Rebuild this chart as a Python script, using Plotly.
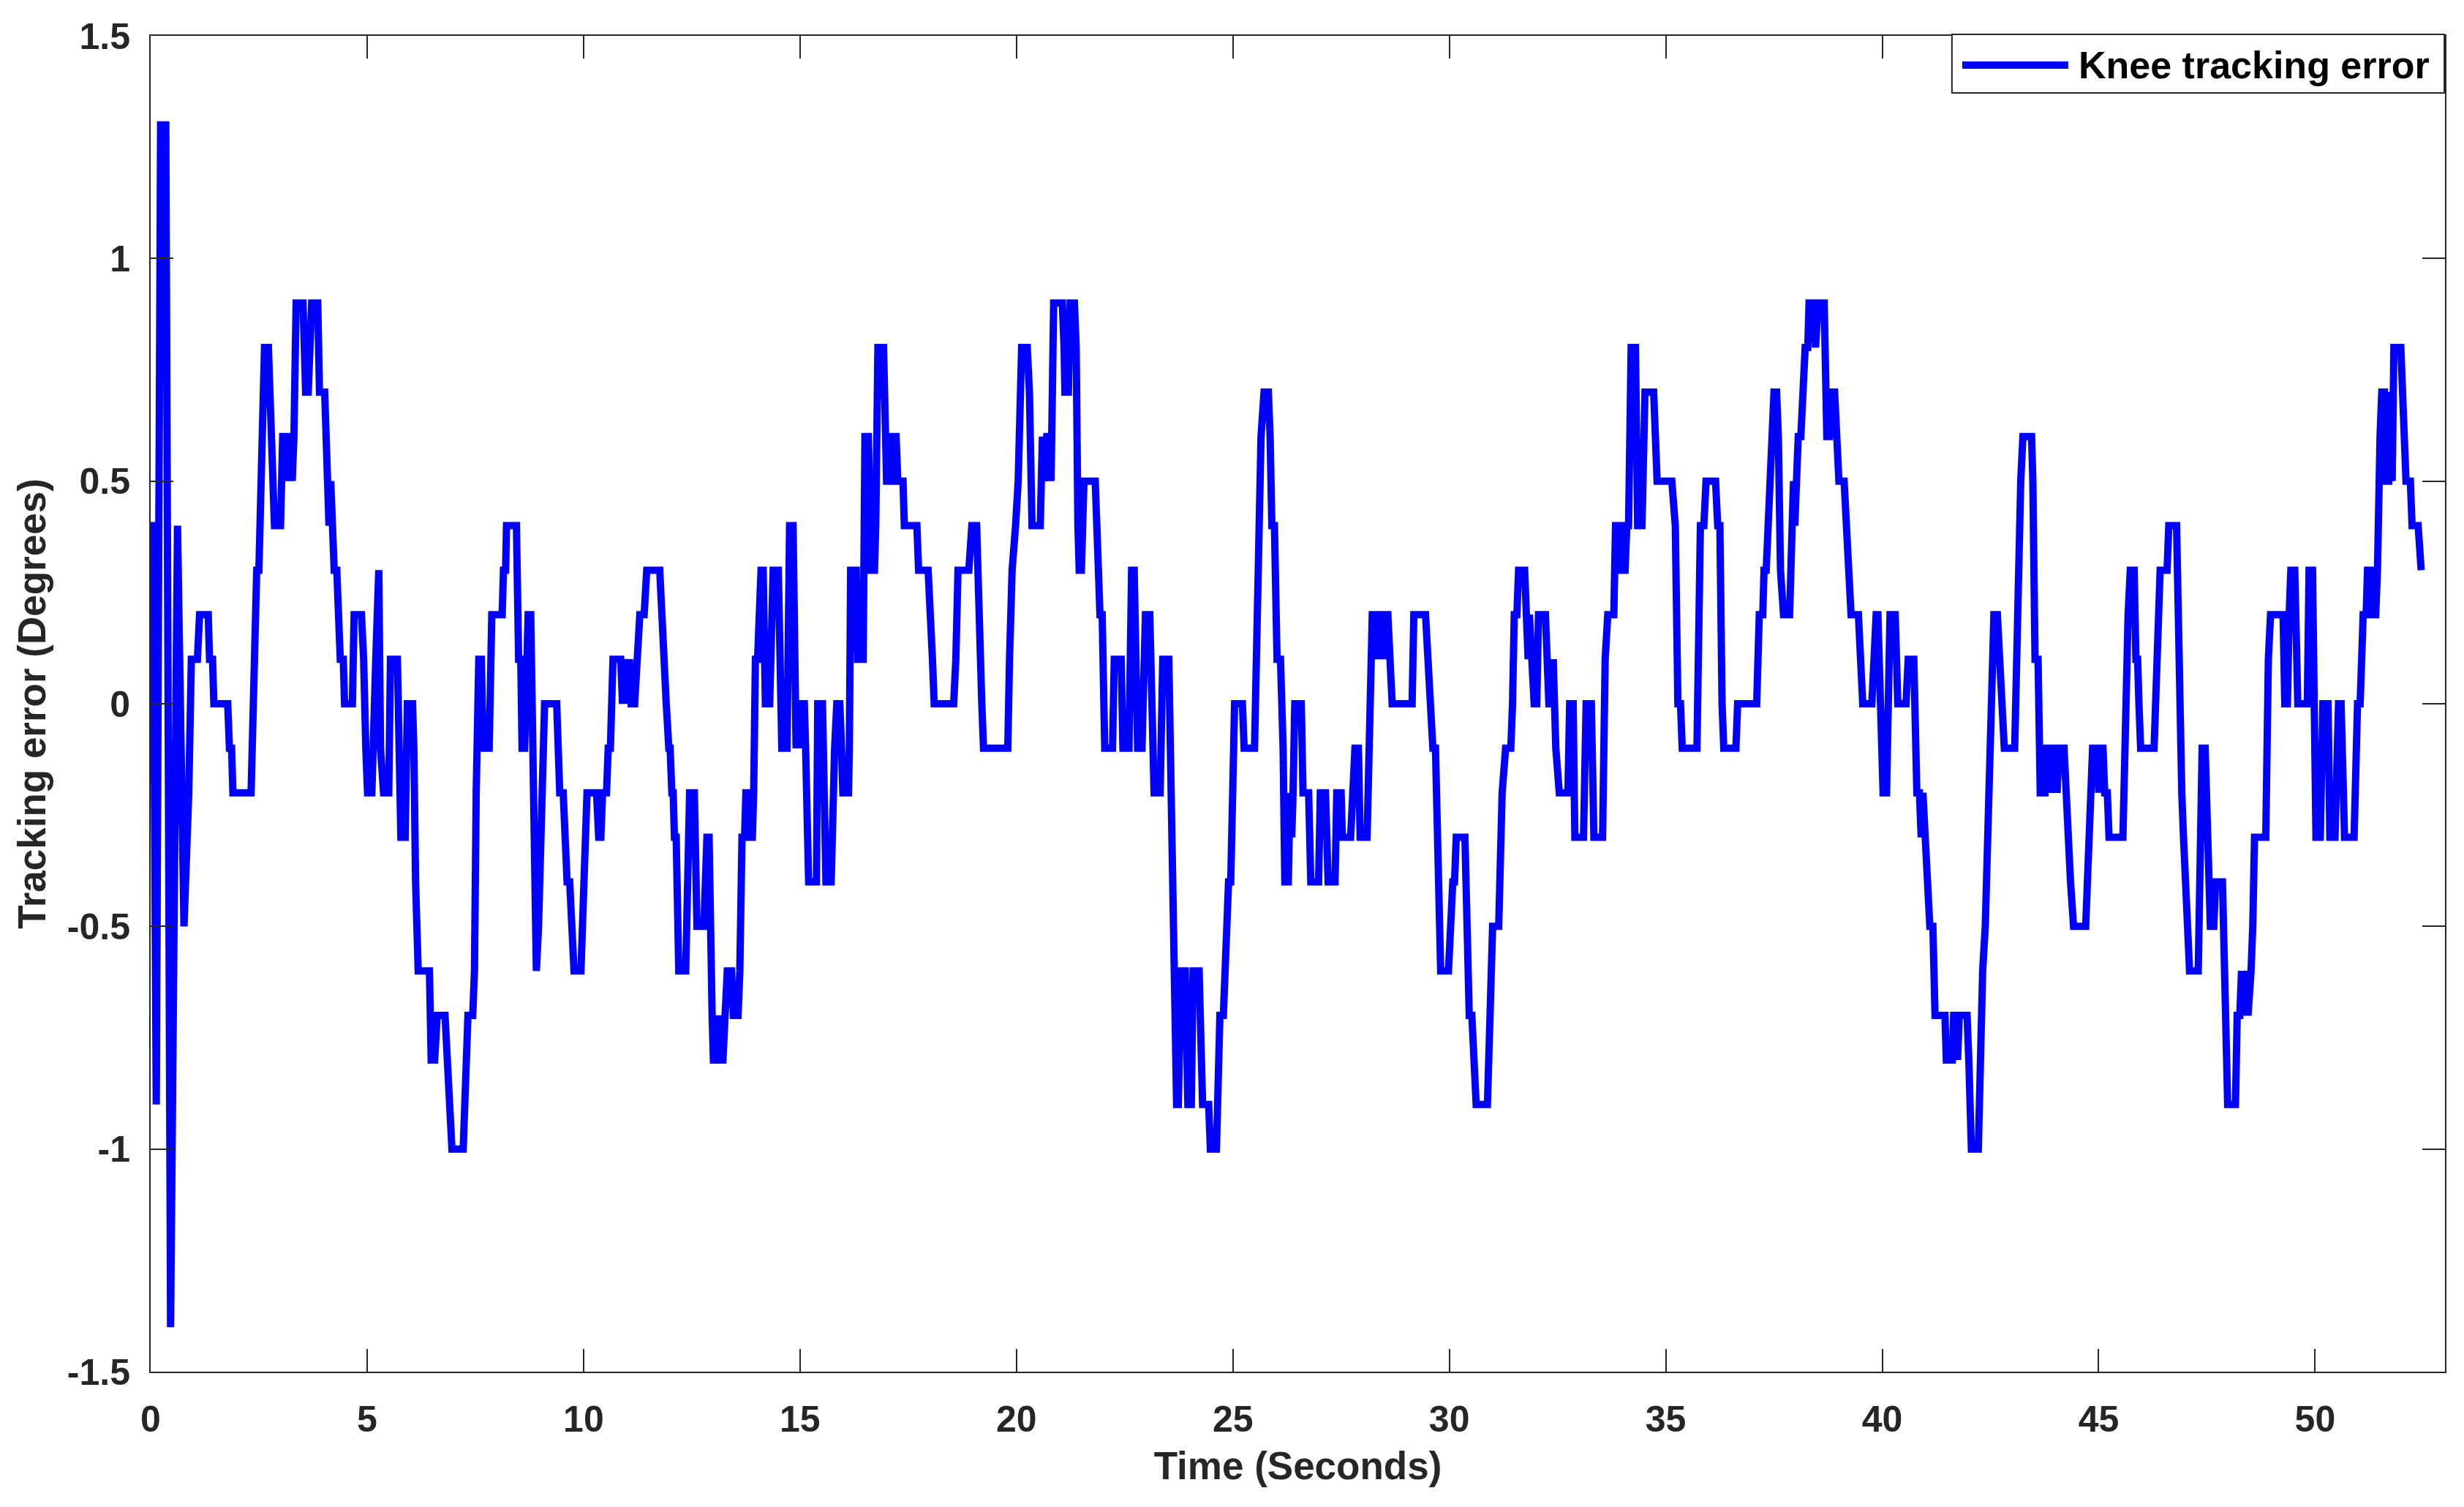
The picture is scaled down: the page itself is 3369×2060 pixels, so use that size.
import plotly.graph_objects as go

# ---------------- data ----------------
time_a = [0.00, 0.05, 0.13, 0.23, 0.35, 0.46, 0.62, 0.77, 0.88, 0.94,
          1.08, 1.13, 1.33, 1.36, 1.43, 1.46, 1.78, 1.82, 1.87, 1.90,
          2.32, 2.36, 2.40, 2.45, 2.50, 2.55, 2.59, 2.63, 2.72, 2.79,
          2.86, 3.00, 3.05, 3.15, 3.19, 3.23, 3.27, 3.31, 3.36, 3.52,
          3.58, 3.64, 3.68, 3.72, 3.86, 3.90, 4.02, 4.07, 4.12, 4.16,
          4.20, 4.24, 4.30, 4.33, 4.38, 4.45, 4.48, 4.66, 4.70, 4.87,
          4.92, 4.97, 5.01, 5.11, 5.15, 5.20, 5.27, 5.31, 5.38, 5.50,
          5.54, 5.70, 5.74, 5.78, 5.88, 5.93, 6.05, 6.08, 6.12, 6.15,
          6.18, 6.44, 6.48, 6.56, 6.62, 6.80]
err_a = [0.4, 0.4, -0.9, 1.3, 1.3, -1.4, 0.4, -0.5, -0.2, 0.1,
         0.1, 0.2, 0.2, 0.1, 0.1, 0.0, 0.0, -0.1, -0.1, -0.2,
         -0.2, 0.0, 0.1, 0.3, 0.3, 0.5, 0.5, 0.8, 0.8, 0.6,
         0.4, 0.4, 0.6, 0.6, 0.5, 0.6, 0.5, 0.6, 0.9, 0.9,
         0.7, 0.7, 0.8, 0.9, 0.9, 0.7, 0.7, 0.5, 0.4, 0.5,
         0.4, 0.3, 0.3, 0.2, 0.1, 0.1, 0.0, 0.0, 0.2, 0.2,
         0.1, -0.1, -0.2, -0.2, 0.0, 0.1, 0.3, -0.1, -0.2, -0.2,
         0.1, 0.1, -0.1, -0.3, -0.3, 0.0, 0.0, -0.1, -0.4, -0.5,
         -0.6, -0.6, -0.8, -0.8, -0.7, -0.7]

time_b = [6.85, 6.90, 6.96, 7.22, 7.25, 7.28, 7.33, 7.44, 7.48, 7.52,
          7.58, 7.64, 7.68, 7.82, 7.85, 7.88, 8.12, 8.15, 8.20, 8.22,
          8.45, 8.47, 8.50, 8.55, 8.58, 8.64, 8.72, 8.78, 8.91, 8.96,
          9.05, 9.10, 9.38, 9.41, 9.45, 9.53, 9.57, 9.62, 9.68, 9.72,
          9.78, 9.94, 9.98, 10.05, 10.08, 10.30, 10.35, 10.40, 10.44, 10.53,
          10.57, 10.62, 10.65, 10.68, 10.86, 10.90, 10.96, 11.00, 11.06, 11.10,
          11.18, 11.22, 11.26, 11.30, 11.40, 11.46, 11.76, 11.80, 11.84, 11.88,
          11.91, 11.97, 12.00, 12.04, 12.07, 12.10, 12.14, 12.20, 12.36, 12.45,
          12.56, 12.62, 12.78, 12.85, 12.90, 12.97, 13.00, 13.05, 13.10, 13.15,
          13.22, 13.27, 13.32, 13.42, 13.46, 13.57]
err_b = [-0.8, -0.9, -1.0, -1.0, -0.9, -0.8, -0.7, -0.7, -0.6, -0.2,
         0.1, 0.1, -0.1, -0.1, 0.0, 0.2, 0.2, 0.3, 0.3, 0.4,
         0.4, 0.3, 0.1, 0.1, -0.1, -0.1, 0.2, 0.2, -0.6, -0.5,
         -0.2, 0.0, 0.0, -0.1, -0.2, -0.2, -0.3, -0.4, -0.4, -0.5,
         -0.6, -0.6, -0.5, -0.3, -0.2, -0.2, -0.3, -0.3, -0.2, -0.2,
         -0.1, -0.1, 0.0, 0.1, 0.1, 0.0, 0.1, 0.0, 0.1, 0.0,
         0.0, 0.1, 0.1, 0.2, 0.2, 0.3, 0.3, 0.2, 0.1, 0.1,
         0.0, -0.1, -0.1, -0.2, -0.2, -0.3, -0.3, -0.6, -0.6, -0.2,
         -0.2, -0.5, -0.5, -0.3, -0.3, -0.7, -0.8, -0.8, -0.7, -0.8,
         -0.8, -0.7, -0.6, -0.6, -0.7, -0.7]

time_c = [13.61, 13.66, 13.72, 13.75, 13.80, 13.83, 13.90, 13.93, 13.97, 14.02,
          14.05, 14.10, 14.15, 14.20, 14.30, 14.33, 14.38, 14.50, 14.53, 14.55,
          14.58, 14.70, 14.76, 14.84, 14.88, 14.91, 14.95, 15.00, 15.05, 15.10,
          15.13, 15.20, 15.38, 15.41, 15.52, 15.56, 15.60, 15.72, 15.75, 15.80,
          15.85, 15.92, 15.96, 15.99, 16.12, 16.14, 16.17, 16.30, 16.33, 16.46,
          16.50, 16.58, 16.64, 16.72, 16.75, 16.80, 16.93, 16.96, 17.00, 17.10,
          17.13, 17.22, 17.26, 17.38, 17.41, 17.70, 17.74, 17.96, 17.99, 18.02,
          18.06, 18.10, 18.55, 18.60, 18.65, 18.90, 18.97, 19.08, 19.12, 19.17,
          19.20, 19.24, 19.80, 19.84, 19.90, 19.98, 20.04, 20.12, 20.25, 20.30]
err_c = [-0.6, -0.3, -0.3, -0.2, -0.2, -0.3, -0.3, -0.2, 0.1, 0.1,
         0.2, 0.3, 0.3, 0.0, 0.0, 0.2, 0.3, 0.3, 0.2, 0.0,
         -0.1, -0.1, 0.4, 0.4, 0.2, -0.1, 0.0, -0.1, 0.0, 0.0,
         -0.1, -0.4, -0.4, 0.0, 0.0, -0.3, -0.4, -0.4, -0.2, -0.1,
         0.0, 0.0, -0.1, -0.2, -0.2, -0.1, 0.3, 0.3, 0.1, 0.1,
         0.6, 0.6, 0.3, 0.3, 0.4, 0.8, 0.8, 0.7, 0.5, 0.5,
         0.6, 0.6, 0.5, 0.5, 0.4, 0.4, 0.3, 0.3, 0.2, 0.1,
         0.1, 0.0, 0.0, 0.1, 0.3, 0.3, 0.4, 0.4, 0.2, 0.1,
         0.0, -0.1, -0.1, 0.1, 0.3, 0.4, 0.5, 0.8, 0.8, 0.7]

time_d = [20.36, 20.55, 20.60, 20.64, 20.70, 20.77, 20.80, 20.86, 21.06, 21.10,
          21.12, 21.20, 21.24, 21.34, 21.38, 21.42, 21.45, 21.50, 21.56, 21.82,
          21.86, 21.93, 21.98, 22.01, 22.04, 22.22, 22.26, 22.42, 22.46, 22.60,
          22.66, 22.72, 22.80, 22.90, 22.98, 23.08, 23.18, 23.32, 23.38, 23.52,
          23.65, 23.70, 23.74, 23.80, 23.90, 23.96, 24.04, 24.08, 24.22, 24.27,
          24.30, 24.44, 24.48, 24.62, 24.66, 24.70, 24.78, 24.82, 24.90, 24.95,
          25.00, 25.04, 25.22, 25.26, 25.50, 25.58, 25.65, 25.72, 25.82, 25.86,
          25.90, 25.96, 25.99, 26.02, 26.10, 26.16, 26.20, 26.28, 26.32, 26.36,
          26.39, 26.43, 26.58, 26.62, 26.75, 26.80, 26.98, 27.02, 27.14, 27.20,
          27.36]
err_d = [0.4, 0.4, 0.6, 0.5, 0.6, 0.6, 0.5, 0.9, 0.9, 0.8,
         0.7, 0.7, 0.9, 0.9, 0.8, 0.4, 0.3, 0.3, 0.5, 0.5,
         0.4, 0.2, 0.2, 0.1, -0.1, -0.1, 0.1, 0.1, -0.1, -0.1,
         0.3, 0.3, -0.1, -0.1, 0.2, 0.2, -0.2, -0.2, 0.1, 0.1,
         -0.8, -0.9, -0.9, -0.6, -0.6, -0.9, -0.9, -0.6, -0.6, -0.8,
         -0.9, -0.9, -1.0, -1.0, -0.9, -0.7, -0.7, -0.6, -0.4, -0.4,
         -0.1, 0.0, 0.0, -0.1, -0.1, 0.4, 0.6, 0.7, 0.7, 0.6,
         0.4, 0.4, 0.2, 0.1, 0.1, -0.1, -0.4, -0.4, -0.2, -0.3,
         -0.2, 0.0, 0.0, -0.2, -0.2, -0.4, -0.4, -0.2, -0.2, -0.4,
         -0.4]

time_e = [27.40, 27.50, 27.53, 27.72, 27.76, 27.82, 27.90, 27.94, 28.10, 28.14,
          28.17, 28.22, 28.30, 28.33, 28.36, 28.44, 28.48, 28.51, 28.58, 28.62,
          28.68, 29.14, 29.18, 29.45, 29.50, 29.55, 29.62, 29.68, 29.75, 29.80,
          29.98, 30.02, 30.08, 30.12, 30.16, 30.36, 30.40, 30.46, 30.52, 30.58,
          30.62, 30.88, 30.92, 30.96, 31.00, 31.14, 31.18, 31.22, 31.30, 31.42,
          31.46, 31.50, 31.56, 31.60, 31.74, 31.78, 31.82, 31.85, 31.90, 31.96,
          32.02, 32.06, 32.22, 32.26, 32.30, 32.36, 32.40, 32.46, 32.54, 32.74,
          32.78, 32.86, 32.90, 33.10, 33.16, 33.28, 33.34, 33.54, 33.60, 33.66,
          33.80, 33.84, 33.94, 33.98, 34.06, 34.10, 34.14]
err_e = [-0.2, -0.2, -0.3, -0.3, -0.2, -0.1, -0.1, -0.3, -0.3, -0.1,
         0.1, 0.2, 0.2, 0.1, 0.2, 0.2, 0.1, 0.2, 0.2, 0.1,
         0.0, 0.0, 0.2, 0.2, 0.1, 0.0, -0.1, -0.1, -0.4, -0.6,
         -0.6, -0.5, -0.4, -0.4, -0.3, -0.3, -0.5, -0.7, -0.7, -0.8,
         -0.9, -0.9, -0.7, -0.6, -0.5, -0.5, -0.3, -0.2, -0.1, -0.1,
         0.0, 0.2, 0.2, 0.3, 0.3, 0.2, 0.1, 0.2, 0.1, 0.0,
         0.0, 0.2, 0.2, 0.1, 0.0, 0.0, 0.1, -0.1, -0.2, -0.2,
         0.0, 0.0, -0.3, -0.3, 0.0, 0.0, -0.3, -0.3, 0.1, 0.2,
         0.2, 0.4, 0.4, 0.3, 0.3, 0.4, 0.4]

time_f = [34.20, 34.30, 34.35, 34.45, 34.52, 34.72, 34.76, 34.80, 35.14, 35.18,
          35.22, 35.28, 35.34, 35.38, 35.72, 35.80, 35.88, 35.93, 36.15, 36.20,
          36.25, 36.30, 36.34, 36.62, 36.66, 37.10, 37.16, 37.24, 37.27, 37.32,
          37.36, 37.42, 37.50, 37.56, 37.60, 37.65, 37.72, 37.86, 37.95, 37.98,
          38.06, 38.12, 38.16, 38.22, 38.28, 38.31, 38.42, 38.46, 38.52, 38.66,
          38.72, 38.78, 38.82, 38.90, 38.95, 39.00, 39.12, 39.17, 39.22, 39.28,
          39.45, 39.50, 39.55, 39.76, 39.80, 39.86, 39.90, 39.96, 40.02, 40.10,
          40.18, 40.30, 40.36, 40.55, 40.60, 40.73, 40.76, 40.80, 40.86, 40.90,
          40.94, 40.98, 41.05, 41.10, 41.17]
err_f = [0.8, 0.8, 0.4, 0.4, 0.7, 0.7, 0.6, 0.5, 0.5, 0.4,
         0.4, 0.0, 0.0, -0.1, -0.1, 0.4, 0.4, 0.5, 0.5, 0.4,
         0.4, 0.0, -0.1, -0.1, 0.0, 0.0, 0.2, 0.2, 0.3, 0.3,
         0.4, 0.5, 0.7, 0.7, 0.6, 0.3, 0.2, 0.2, 0.5, 0.4,
         0.6, 0.6, 0.7, 0.8, 0.8, 0.9, 0.9, 0.8, 0.9, 0.9,
         0.6, 0.6, 0.7, 0.7, 0.6, 0.5, 0.5, 0.4, 0.3, 0.2,
         0.2, 0.1, 0.0, 0.0, 0.1, 0.2, 0.2, 0.0, -0.2, -0.2,
         0.2, 0.2, 0.0, 0.0, 0.1, 0.1, 0.0, -0.2, -0.2, -0.3,
         -0.2, -0.3, -0.4, -0.5, -0.5]

time_g = [41.22, 41.45, 41.48, 41.62, 41.65, 41.70, 41.74, 41.78, 41.96, 42.00,
          42.06, 42.22, 42.27, 42.32, 42.38, 42.50, 42.58, 42.66, 42.70, 42.78,
          42.82, 43.06, 43.12, 43.16, 43.20, 43.25, 43.45, 43.48, 43.53, 43.60,
          43.65, 43.76, 43.80, 43.90, 43.93, 43.96, 44.00, 44.04, 44.08, 44.20,
          44.26, 44.30, 44.35, 44.42, 44.70, 44.74, 44.78, 44.82, 44.86, 44.98,
          45.00, 45.02, 45.10, 45.14, 45.20, 45.24, 45.56, 45.60, 45.65, 45.68,
          45.73, 45.82, 45.86, 45.90, 45.93, 45.97, 46.28, 46.33, 46.37, 46.42,
          46.58, 46.62, 46.80, 46.84, 46.88, 46.92, 46.96, 47.00, 47.10, 47.30,
          47.35, 47.39, 47.46, 47.50, 47.54, 47.58, 47.66, 47.70, 47.86]
err_g = [-0.7, -0.7, -0.8, -0.8, -0.7, -0.7, -0.8, -0.7, -0.7, -0.8,
         -1.0, -1.0, -0.7, -0.6, -0.5, -0.1, 0.2, 0.2, 0.1, 0.0,
         -0.1, -0.1, 0.2, 0.4, 0.5, 0.6, 0.6, 0.5, 0.1, 0.1,
         -0.2, -0.2, -0.1, -0.1, -0.2, -0.1, -0.1, -0.2, -0.1, -0.1,
         -0.3, -0.3, -0.4, -0.5, -0.5, -0.4, -0.3, -0.2, -0.1, -0.1,
         -0.2, -0.1, -0.1, -0.2, -0.2, -0.3, -0.3, -0.1, 0.1, 0.2,
         0.3, 0.3, 0.1, 0.1, 0.0, -0.1, -0.1, 0.1, 0.2, 0.3,
         0.3, 0.4, 0.4, 0.2, -0.2, -0.2, -0.3, -0.4, -0.6, -0.6,
         -0.3, -0.1, -0.1, -0.2, -0.4, -0.5, -0.5, -0.4, -0.4]

time_h = [47.93, 47.98, 48.16, 48.18, 48.20, 48.26, 48.30, 48.34, 48.38, 48.42,
          48.45, 48.48, 48.52, 48.56, 48.60, 48.86, 48.88, 48.92, 48.97, 49.26,
          49.30, 49.36, 49.40, 49.44, 49.53, 49.56, 49.60, 49.82, 49.86, 49.94,
          49.98, 50.02, 50.12, 50.14, 50.18, 50.30, 50.34, 50.46, 50.48, 50.54,
          50.60, 50.64, 50.68, 50.90, 50.93, 50.98, 51.04, 51.07, 51.11, 51.18,
          51.21, 51.30, 51.33, 51.40, 51.44, 51.50, 51.54, 51.60, 51.64, 51.70,
          51.74, 51.78, 51.82, 51.98, 52.02, 52.06, 52.10, 52.20, 52.24, 52.38,
          52.45]
err_h = [-0.7, -0.9, -0.9, -0.8, -0.7, -0.7, -0.6, -0.7, -0.6, -0.6,
         -0.7, -0.6, -0.6, -0.5, -0.3, -0.3, 0.0, 0.1, 0.2, 0.2,
         0.0, 0.0, 0.2, 0.3, 0.3, 0.2, 0.0, 0.0, 0.3, 0.3,
         0.1, -0.3, -0.3, -0.1, 0.0, 0.0, -0.3, -0.3, -0.2, 0.0,
         0.0, -0.2, -0.3, -0.3, -0.2, 0.0, 0.0, 0.1, 0.2, 0.2,
         0.3, 0.3, 0.2, 0.2, 0.3, 0.6, 0.7, 0.7, 0.5, 0.5,
         0.7, 0.5, 0.8, 0.8, 0.7, 0.6, 0.5, 0.5, 0.4, 0.4,
         0.3]

x_tick_vals = [0, 5, 10, 15, 20, 25, 30, 35, 40, 45, 50]
x_tick_text = ["0", "5", "10", "15", "20", "25", "30", "35", "40", "45", "50"]
y_tick_vals = [-1.5, -1.0, -0.5, 0.0, 0.5, 1.0, 1.5]
y_tick_text = ["-1.5", "-1", "-0.5", "0", "0.5", "1", "1.5"]
series_name = "Knee tracking error"

# ---------------- assemble ----------------
time_segments = [time_a, time_b, time_c, time_d, time_e, time_f, time_g, time_h]
err_segments = [err_a, err_b, err_c, err_d, err_e, err_f, err_g, err_h]
time_s, error_deg = [], []
for ts, es in zip(time_segments, err_segments):
    assert len(ts) == len(es), (len(ts), len(es), ts[0])
    time_s.extend(ts)
    error_deg.extend(es)

AX = "#262626"
FONT = "Liberation Sans, Arial, Helvetica, sans-serif"
BLUE = "#0000ff"

fig = go.Figure()
fig.add_trace(go.Scatter(
    x=time_s, y=error_deg, mode="lines", name=series_name,
    line=dict(color=BLUE, width=10), showlegend=False,
))

axis_common = dict(
    showline=True, linecolor=AX, linewidth=2, mirror="ticks",
    ticks="inside", ticklen=31, tickwidth=2, tickcolor=AX,
    showgrid=False, zeroline=False,
    tickfont=dict(family=FONT, size=50, color=AX, weight="bold"),
)

fig.update_xaxes(
    range=[0, 53], tickmode="array", tickvals=x_tick_vals, ticktext=x_tick_text,
    ticklabelstandoff=20,
    title=dict(text="Time (Seconds)", standoff=18,
               font=dict(family=FONT, size=53, color=AX, weight="bold")),
    **axis_common,
)
fig.update_yaxes(
    range=[-1.5, 1.5], tickmode="array", tickvals=y_tick_vals, ticktext=y_tick_text,
    ticklabelstandoff=16,
    title=dict(text="Tracking error (Degrees)", standoff=12,
               font=dict(family=FONT, size=53, color=AX, weight="bold")),
    **axis_common,
)

# legend box (MATLAB style: long line sample inside a bordered box)
lg_x0, lg_x1, lg_y0, lg_y1 = 0.7851, 0.9997, 0.9573, 1.0011
fig.add_shape(type="rect", xref="paper", yref="paper",
              x0=lg_x0, x1=lg_x1, y0=lg_y0, y1=lg_y1,
              line=dict(color=AX, width=2), fillcolor="white", layer="above")
fig.add_shape(type="line", xref="paper", yref="paper",
              x0=0.7896, x1=0.8358, y0=0.9781, y1=0.9781,
              line=dict(color=BLUE, width=10), layer="above")
fig.add_annotation(xref="paper", yref="paper", x=0.8395, y=0.9781,
                   xanchor="left", yanchor="middle", showarrow=False,
                   text=series_name,
                   font=dict(family=FONT, size=52, color="black", weight="bold"))

fig.update_layout(
    width=3369, height=2060,
    margin=dict(l=206, r=26, t=49, b=185, autoexpand=False),
    paper_bgcolor="white", plot_bgcolor="white",
    showlegend=False,
    font=dict(family=FONT, color=AX),
)

fig.write_html("out.html", config={"displayModeBar": False},
               post_script="document.body.style.margin='0';document.body.style.overflow='hidden';")
